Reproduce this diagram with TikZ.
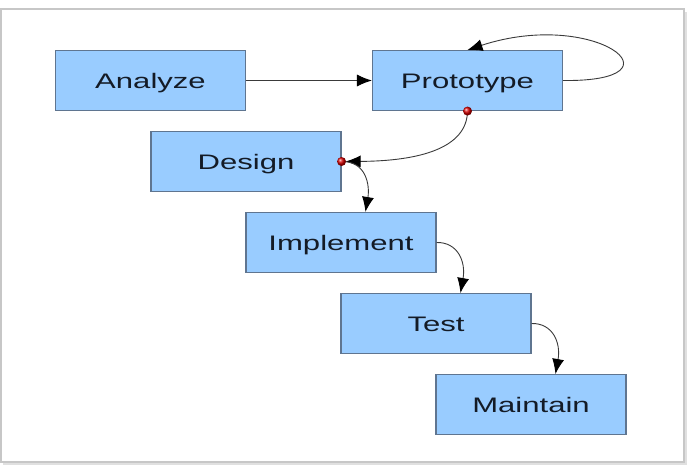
\documentclass[tikz,border=0pt]{standalone}
\usepackage{fontspec}
\newfontfamily\boxfont[FakeStretch=1.48]{Liberation Sans}
\usetikzlibrary{arrows.meta,calc}
\definecolor{boxblue}{HTML}{99CCFF}
\definecolor{boxline}{HTML}{5F7590}
\definecolor{linegray}{HTML}{3A3A3A}
\definecolor{txt}{HTML}{141B26}
\begin{document}
\begin{tikzpicture}[x=1pt,y=-1pt,
  stage/.style={rectangle,draw=boxline,fill=boxblue,line width=1.1pt,
    minimum width=190pt,minimum height=60pt,inner sep=0pt,
    text height=15pt,text depth=0pt,
    font=\boxfont\fontsize{21}{24}\selectfont,text=txt},
  flow/.style={draw=linegray,line width=0.9pt,-{Latex[length=15pt,width=12pt,fill=black,color=black]}},
  reddot/.style={circle,inner sep=0pt,minimum size=9pt,shading=ball,ball color=red!85!black}]
\useasboundingbox (0,0) rectangle (690,467);
% frame with shadow
\fill[black!12] (3,12) rectangle (687,465);
\fill[white] (1,9) rectangle (684,462);
\draw[black!22,line width=1.2pt] (1,9) rectangle (684,462);
% nodes
\node[stage] (an) at (150.5,80.5) {Analyze};
\node[stage] (pr) at (467.5,80.5) {Prototype};
\node[stage] (ds) at (246,161.5) {Design};
\node[stage] (im) at (341,242.5) {Implement};
\node[stage] (ts) at (436,323.5) {Test};
\node[stage] (mt) at (531,404.5) {Maintain};
\coordinate (imin) at ($(im.north west)+(120,0)$);
\coordinate (tsin) at ($(ts.north west)+(120,0)$);
\coordinate (mtin) at ($(mt.north west)+(120,0)$);
% connectors
\draw[flow] (an.east) -- (pr.west);
\draw[flow] (pr.east) .. controls (690,82) and (595,8) .. (pr.north);
\draw[flow] (pr.south) .. controls (467,148) and (420,161) .. ($(ds.east)+(4,0)$);
\draw[flow] (ds.east) .. controls (366,161) and (370,185) .. (imin);
\draw[flow] (im.east) .. controls (458,242) and (466,262) .. (tsin);
\draw[flow] (ts.east) .. controls (553,323) and (561,343) .. (mtin);
\node[reddot] (d1) at (pr.south) {};
\node[reddot] (d2) at (ds.east) {};
\end{tikzpicture}
\end{document}
